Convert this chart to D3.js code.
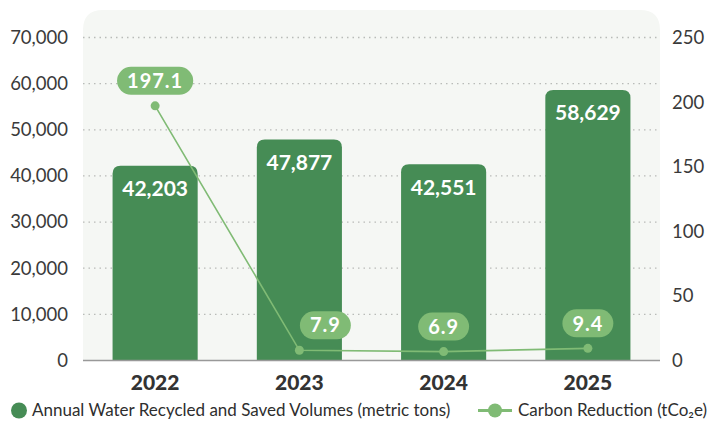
<!DOCTYPE html>
<meta charset="utf-8">
<title>Water Recycled and Carbon Reduction</title>
<style>
body { margin: 0; background: #fff; }
svg { display: block; font-family: Lato, "Open Sans", sans-serif; }
.tick text { fill: #3a3a3a; font-size: 18.5px; }
.year text { fill: #333; font-size: 21px; font-weight: 900; }
.legend text { fill: #2e2e2e; font-size: 17px; }
</style>
<svg width="712" height="426"></svg>
<script src="https://cdn.jsdelivr.net/npm/d3@7"></script>
<script>

var years = ["2022", "2023", "2024", "2025"];
var water = [42203, 47877, 42551, 58629];
var carbon = [197.1, 7.9, 6.9, 9.4];
var leftTicks = [0, 10000, 20000, 30000, 40000, 50000, 60000, 70000];
var rightTicks = [0, 50, 100, 150, 200, 250];
var legendLabels = ["Annual Water Recycled and Saved Volumes (metric tons)", "Carbon Reduction (tCo\u2082e)"];

var barColor = "#468c55",
    lineColor = "#80bb75";

var svg = d3.select("svg");

var plotL = 83, plotR = 660, plotT = 37.5, plotB = 360.5;

var x = d3.scaleBand()
    .domain(years)
    .range([plotL, plotR])
    .paddingInner(0.41)
    .paddingOuter(0.205);

var y = d3.scaleLinear().domain([0, 70000]).range([plotB, plotT]);
var y2 = d3.scaleLinear().domain([0, 250]).range([plotB, plotT]);

// plot background with rounded top corners
var r = 20, bgTop = 10;
svg.append("path")
    .attr("fill", "#f5f7f4")
    .attr("d", "M" + plotL + "," + plotB +
      "V" + (bgTop + r) + "Q" + plotL + "," + bgTop + " " + (plotL + r) + "," + bgTop +
      "H" + (plotR - r) + "Q" + plotR + "," + bgTop + " " + plotR + "," + (bgTop + r) +
      "V" + plotB + "Z");

// grid
svg.append("g")
  .selectAll("line")
    .data(leftTicks.slice(1))
  .enter().append("line")
    .attr("x1", plotL).attr("x2", plotR)
    .attr("y1", function(d) { return y(d); })
    .attr("y2", function(d) { return y(d); })
    .attr("stroke", "#b9bbb8")
    .attr("stroke-width", 1.3)
    .attr("stroke-dasharray", "1.5,4");

// axes
var yAxis = svg.append("g")
    .attr("transform", "translate(" + plotL + ",0)")
    .call(d3.axisLeft(y).tickValues(leftTicks).tickSize(0).tickPadding(15).tickFormat(d3.format(",")));
yAxis.select(".domain").remove();
yAxis.attr("font-family", null).attr("font-size", null);

var y2Axis = svg.append("g")
    .attr("transform", "translate(" + plotR + ",0)")
    .call(d3.axisRight(y2).tickValues(rightTicks).tickSize(0).tickPadding(12));
y2Axis.select(".domain").remove();
y2Axis.attr("font-family", null).attr("font-size", null);

// bars with rounded top
var br = 8;
function barPath(d, i) {
  var x0 = x(years[i]), x1 = x0 + x.bandwidth(), yt = y(d), yb = y(0);
  return "M" + x0 + "," + yb + "V" + (yt + br) +
    "Q" + x0 + "," + yt + " " + (x0 + br) + "," + yt +
    "H" + (x1 - br) + "Q" + x1 + "," + yt + " " + x1 + "," + (yt + br) +
    "V" + yb + "Z";
}

svg.append("g")
  .selectAll("path")
    .data(water)
  .enter().append("path")
    .attr("fill", barColor)
    .attr("d", barPath);

svg.append("g")
  .selectAll("text")
    .data(water)
  .enter().append("text")
    .attr("x", function(d, i) { return x(years[i]) + x.bandwidth() / 2; })
    .attr("y", function(d) { return y(d) + 23; })
    .attr("dy", ".35em")
    .attr("text-anchor", "middle")
    .attr("fill", "#fff")
    .attr("font-size", "21px")
    .attr("font-weight", 700)
    .text(d3.format(","));

// baseline
svg.append("line")
    .attr("x1", plotL).attr("x2", plotR)
    .attr("y1", plotB).attr("y2", plotB)
    .attr("stroke", "#999")
    .attr("stroke-width", 1.5);

// line series
var cx = function(d, i) { return x(years[i]) + x.bandwidth() / 2; };

svg.append("path")
    .datum(carbon)
    .attr("fill", "none")
    .attr("stroke", lineColor)
    .attr("stroke-width", 1.6)
    .attr("d", d3.line().x(cx).y(function(d) { return y2(d); }));

svg.append("g")
  .selectAll("circle")
    .data(carbon)
  .enter().append("circle")
    .attr("cx", cx)
    .attr("cy", function(d) { return y2(d); })
    .attr("r", 4.5)
    .attr("fill", lineColor);

// pill labels
var pill = svg.append("g")
  .selectAll("g")
    .data(carbon)
  .enter().append("g")
    .attr("transform", function(d, i) {
      var dx = i === 1 ? 26 : 0; // nudge off the line
      return "translate(" + (cx(d, i) + dx) + "," + (y2(d) - 25) + ")";
    });

pill.append("text")
    .attr("dy", ".36em")
    .attr("text-anchor", "middle")
    .attr("fill", "#fff")
    .attr("font-size", "20px")
    .attr("font-weight", 700)
    .attr("letter-spacing", "1px")
    .text(function(d) { return d; })
    .each(function() {
      var w = this.getComputedTextLength() + 20;
      d3.select(this.parentNode).insert("rect", "text")
          .attr("x", -w / 2).attr("y", -14)
          .attr("width", w).attr("height", 28)
          .attr("rx", 14)
          .attr("fill", lineColor);
    });

// year labels
svg.append("g")
    .attr("class", "year")
  .selectAll("text")
    .data(years)
  .enter().append("text")
    .attr("x", function(d) { return x(d) + x.bandwidth() / 2; })
    .attr("y", 383)
    .attr("dy", ".35em")
    .attr("text-anchor", "middle")
    .text(function(d) { return d; });

// legend
var legend = svg.append("g").attr("class", "legend");

legend.append("circle")
    .attr("cx", 19).attr("cy", 410.5).attr("r", 8)
    .attr("fill", barColor);
legend.append("text")
    .attr("x", 32).attr("y", 410.5).attr("dy", ".35em")
    .text(legendLabels[0]);

legend.append("line")
    .attr("x1", 478).attr("x2", 512)
    .attr("y1", 410.5).attr("y2", 410.5)
    .attr("stroke", lineColor).attr("stroke-width", 3);
legend.append("circle")
    .attr("cx", 495).attr("cy", 410.5).attr("r", 7)
    .attr("fill", lineColor);
legend.append("text")
    .attr("x", 518).attr("y", 410.5).attr("dy", ".35em")
    .text(legendLabels[1]);

</script>
